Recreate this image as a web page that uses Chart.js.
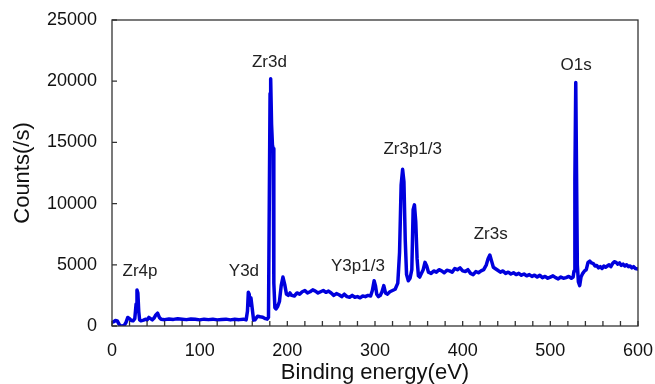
<!DOCTYPE html>
<html>
<head>
<meta charset="utf-8">
<script src="https://cdn.jsdelivr.net/npm/chart.js@4/dist/chart.umd.min.js"></script>
<style>
  html, body { margin: 0; padding: 0; background: #fff; }
  #wrap { width: 655px; height: 384px; }
</style>
</head>
<body>
<div id="wrap"><canvas id="xpsChart"></canvas></div>
<script>
// binding energy (eV) and counts
const energy = [
  0, 2, 4, 6, 8, 10, 12, 14, 16, 18, 20, 22, 24, 26, 27.5, 28.5, 29.5, 30.5, 31.5, 33,
  36, 38, 40, 42, 44, 46, 48, 50, 52, 54, 56, 60, 65, 70, 75, 80, 85, 90, 95, 100,
  105, 110, 115, 120, 125, 130, 135, 140, 145, 150, 153, 154.5, 155.5, 156.5, 157.5, 158.5, 160, 161.5, 163, 166,
  169, 172, 175, 177, 178.5, 179.5, 180.3, 181, 182, 183, 183.8, 184.6, 185.8, 187, 189, 191, 193, 195, 197, 199,
  201, 203, 205, 208, 211, 214, 217, 220, 223, 226, 229, 232, 235, 238, 241, 244, 247, 250, 253, 256,
  259, 262, 265, 268, 271, 274, 277, 280, 283, 286, 289, 292, 295, 297, 299, 300.5, 302, 304, 306, 308,
  310, 312, 314, 317, 320, 323, 326, 328, 329.8, 331.5, 333, 334.5, 336, 338, 340, 342, 343.5, 345, 346.5, 348,
  349.5, 351, 353, 355, 357, 359, 361, 364, 367, 370, 373, 376, 379, 382, 385, 388, 391, 394, 397, 400,
  403, 406, 409, 412, 415, 418, 421, 424, 427, 429, 431, 433, 435, 437, 440, 443, 446, 449, 452, 455,
  458, 461, 464, 467, 470, 473, 476, 479, 482, 485, 488, 491, 494, 497, 500, 503, 506, 509, 512, 515,
  518, 521, 524, 526, 527, 528, 529, 529.9, 530.8, 532, 533.5, 535, 537, 539, 541, 543, 545, 547, 549, 551,
  553, 555, 557, 559, 561, 563, 565, 567, 569, 571, 573, 575, 577, 579, 581, 583, 585, 587, 589, 591,
  593, 595, 597, 600
];
const counts = [
  300, 350, 450, 420, 150, 0, 0, 50, 300, 700, 600, 450, 420, 600, 1800, 2950, 2700, 1200, 500, 420,
  480, 550, 500, 700, 600, 500, 650, 900, 1050, 700, 550, 520, 580, 540, 600, 560, 520, 580, 550, 500,
  560, 520, 560, 500, 540, 560, 500, 550, 520, 560, 500, 1200, 2750, 2600, 1700, 2300, 1400, 480, 500, 800,
  750, 720, 600, 560, 700, 11000, 19000, 20200, 16500, 14800, 14500, 3500, 1500, 1400, 1600, 2000, 3300, 4000, 3400, 2600,
  2500, 2700, 2500, 2450, 2700, 2600, 2800, 2900, 2700, 2800, 2950, 2850, 2700, 2800, 2900, 2750, 2850, 2700, 2500, 2650,
  2550, 2400, 2600, 2400, 2350, 2500, 2350, 2400, 2300, 2450, 2400, 2500, 2450, 2900, 3700, 3300, 2600, 2400, 2500, 2800,
  3300, 2700, 2600, 2800, 2900, 3000, 3500, 6000, 11500, 12800, 11800, 7000, 4200, 3700, 3900, 4600, 9500, 9900, 8500, 5500,
  4100, 4000, 4300, 4600, 5200, 4900, 4400, 4300, 4500, 4400, 4600, 4500, 4350, 4550, 4500, 4400, 4700, 4600, 4750, 4500,
  4450, 4600, 4300, 4200, 4450, 4350, 4500, 4600, 5000, 5500, 5800, 5300, 4800, 4700, 4550, 4400, 4500, 4300, 4400, 4250,
  4350, 4200, 4300, 4150, 4250, 4100, 4200, 4050, 4150, 4000, 4150, 3950, 4050, 3900, 4000, 4100, 3950, 3850, 4000, 3900,
  3950, 4050, 3900, 4000, 4500, 12000, 19900, 12500, 5000, 3600, 3300, 4000, 4300, 4500, 4600, 5200, 5300, 5150, 5100, 4900,
  4950, 4750, 4850, 4700, 4900, 4800, 4900, 5000, 4850, 5100, 5250, 5200, 5050, 5150, 4950, 5050, 4900, 5000, 4850, 4900,
  4750, 4850, 4700, 4650
];

// peak labels and the data point each one sits at
const peakNames = ['Zr4p', 'Y3d', 'Zr3d', 'Y3p1/3', 'Zr3p1/3', 'Zr3s', 'O1s'];
const peakEnergy = [32, 150.5, 179.5, 280.5, 343, 432, 529.5];
const peakCount = [4500, 4500, 21550, 4900, 14400, 7450, 21300];

const xTickStep = 20;
const xLabelEvery = 100;
const yTickStep = 5000;

const textFont = "'Liberation Sans', Arial, sans-serif";

const points = energy.map((e, i) => ({ x: e, y: counts[i] }));

// frame, inward ticks and peak names
const decorPlugin = {
  id: 'decor',
  afterDraw(chart) {
    const { ctx, chartArea: a, scales } = chart;
    ctx.save();
    ctx.strokeStyle = '#333';
    ctx.lineWidth = 1.3;
    ctx.strokeRect(a.left, a.top, a.right - a.left, a.bottom - a.top);

    ctx.beginPath();
    scales.x.ticks.forEach(t => {
      const px = scales.x.getPixelForValue(t.value);
      ctx.moveTo(px, a.bottom);
      ctx.lineTo(px, a.bottom - 5);
    });
    scales.y.ticks.forEach(t => {
      const py = scales.y.getPixelForValue(t.value);
      ctx.moveTo(a.left, py);
      ctx.lineTo(a.left + 5, py);
    });
    ctx.stroke();

    ctx.fillStyle = '#222';
    ctx.font = '17px ' + textFont;
    ctx.textAlign = 'center';
    ctx.textBaseline = 'middle';
    peakNames.forEach((name, i) => {
      ctx.fillText(name, scales.x.getPixelForValue(peakEnergy[i]), scales.y.getPixelForValue(peakCount[i]));
    });
    ctx.restore();
  }
};

const ctx = document.getElementById('xpsChart').getContext('2d');
let xpsChart = new Chart(ctx, {
    type: 'line',
    data: {
        datasets: [{
            data: points,
            borderColor: '#0000dd',
            borderWidth: 3.5,
            borderJoinStyle: 'round',
            borderCapStyle: 'round',
            pointRadius: 0,
            tension: 0,
            fill: false
        }]
    },
    options: {
        responsive: true,
        maintainAspectRatio: false,
        animation: false,
        layout: { padding: { top: 20, right: 17, left: 0, bottom: 0 } },
        plugins: {
            legend: { display: false },
            tooltip: { enabled: false }
        },
        scales: {
            x: {
                type: 'linear',
                min: 0,
                max: 600,
                grid: { display: false, drawTicks: false },
                border: { display: false },
                ticks: {
                    stepSize: xTickStep,
                    autoSkip: false,
                    maxRotation: 0,
                    padding: 14,
                    color: '#111',
                    font: { family: textFont, size: 18 },
                    callback: v => (v % xLabelEvery === 0 ? String(v) : '')
                },
                title: {
                    display: true,
                    text: 'Binding energy(eV)',
                    color: '#111',
                    font: { family: textFont, size: 22, lineHeight: 1 },
                    padding: { top: 0, bottom: 0 }
                },
                afterFit: s => {
                    s.height = 58;
                    s.paddingLeft = 0;
                    s.paddingRight = 0;
                }
            },
            y: {
                min: 0,
                max: 25000,
                grid: { display: false, drawTicks: false },
                border: { display: false },
                ticks: {
                    stepSize: yTickStep,
                    padding: 15,
                    color: '#111',
                    font: { family: textFont, size: 18 },
                    callback: v => String(v)
                },
                title: {
                    display: true,
                    text: 'Counts(/s)',
                    color: '#111',
                    font: { family: textFont, size: 22, lineHeight: 1.2 },
                    padding: { top: 10, bottom: 0 }
                },
                afterFit: s => {
                    s.width = 112;
                    s.paddingTop = 0;
                    s.paddingBottom = 0;
                }
            }
        }
    },
    plugins: [decorPlugin]
});
</script>
</body>
</html>
